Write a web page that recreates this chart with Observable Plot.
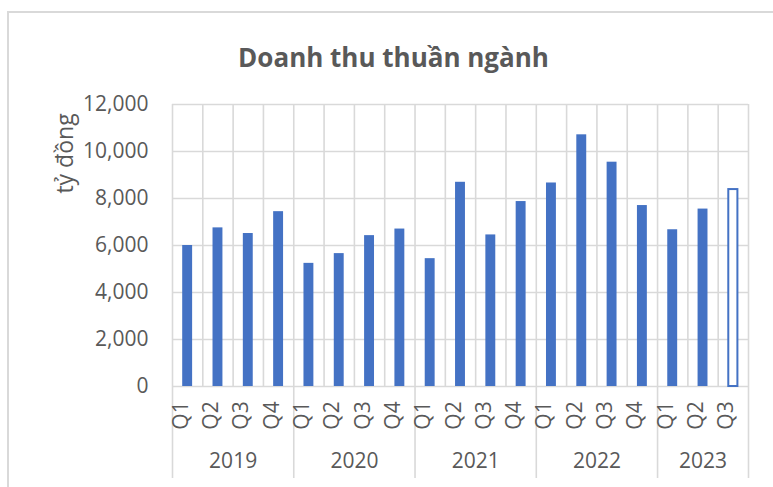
<!DOCTYPE html>
<html>
<head>
<meta charset="utf-8">
<script src="https://cdn.jsdelivr.net/npm/d3@7"></script>
<script src="https://cdn.jsdelivr.net/npm/@observablehq/plot@0.6"></script>
<style>
  html, body { margin: 0; padding: 0; background: #fff; overflow: hidden; }
  #wrap { position: relative; width: 773px; height: 487px; }
  #border { position: absolute; left: 7px; top: 11px; width: 900px; height: 600px;
            border: 2px solid #d9d9d9; pointer-events: none; }
  svg { position: absolute; left: 0; top: 0; }
</style>
</head>
<body>
<div id="wrap"><div id="border"></div></div>
<script>
const title = "Doanh thu thuần ngành";
const yLabel = "tỷ đồng";
const yearLabels = ["2019", "2020", "2021", "2022", "2023"];
const quartersPerYear = [4, 4, 4, 4, 3];
const quarterLabels = ["Q1","Q2","Q3","Q4","Q1","Q2","Q3","Q4","Q1","Q2","Q3","Q4","Q1","Q2","Q3","Q4","Q1","Q2","Q3"];
const revenue = [6000, 6750, 6510, 7440, 5240, 5655, 6420, 6700, 5440, 8690, 6450, 7870, 8660, 10710, 9545, 7700, 6670, 7550, 8380];
const isEstimate = [false,false,false,false,false,false,false,false,false,false,false,false,false,false,false,false,false,false,true];
const yTicks = [0, 2000, 4000, 6000, 8000, 10000, 12000];

const bars = revenue.map((v, i) => ({i, q: quarterLabels[i], value: v, est: isEstimate[i]}));
const boundaries = d3.range(0, bars.length + 1);
let acc = 0;
const years = yearLabels.map((y, k) => { const s = acc; acc += quartersPerYear[k]; return {year: y, start: s, end: acc, mid: (s + acc) / 2}; });
const yearEdges = [0, ...years.map(d => d.end)];

const W = 773, H = 487, mT = 104, mB = 101, mL = 172, mR = 25;
const grey = "#d9d9d9", txt = "#595959", blue = "#4472C4";
const font = "'Open Sans', 'Noto Sans', sans-serif";

const chart = Plot.plot({
  width: W, height: H,
  marginTop: mT, marginBottom: mB, marginLeft: mL, marginRight: mR,
  style: {fontFamily: font, color: txt, background: "transparent", overflow: "visible"},
  x: {type: "linear", domain: [0, bars.length], axis: null},
  y: {domain: [0, 12000], axis: null},
  marks: [
    Plot.ruleY(yTicks, {stroke: grey, strokeWidth: 1.6}),
    Plot.ruleX(boundaries, {stroke: grey, strokeWidth: 1.6}),
    Plot.ruleX(yearEdges, {stroke: grey, strokeWidth: 1.6, insetTop: H - mT - mB, insetBottom: -92}),
    Plot.rectY(bars.filter(d => !d.est), {x1: d => d.i, x2: d => d.i + 1, y: "value", fill: blue, insetLeft: 10.2, insetRight: 10.2}),
    Plot.rectY(bars.filter(d => d.est), {x1: d => d.i, x2: d => d.i + 1, y: "value", fill: "white", stroke: blue, strokeWidth: 2, insetLeft: 10.6, insetRight: 10.6}),
    Plot.text(yTicks, {x: 0, y: d => d, text: d => d3.format(",")(d), textAnchor: "end", dx: -24, fontSize: 21, fill: txt}),
    Plot.text(bars, {x: d => d.i + 0.5, text: "q", frameAnchor: "bottom", dy: 29, rotate: -90, textAnchor: "middle", fontSize: 21, fill: txt}),
    Plot.text(years, {x: "mid", text: "year", frameAnchor: "bottom", dy: 81, textAnchor: "middle", fontSize: 21, fill: txt}),
    Plot.text([yLabel], {frameAnchor: "top-left", dx: 56 - mL, dy: 153 - mT, rotate: -90, textAnchor: "middle", fontSize: 23, fill: txt}),
    Plot.text([title], {frameAnchor: "top-left", dx: 393 - mL, dy: 48 - mT, textAnchor: "middle", fontSize: 26, fontWeight: "bold", fill: txt})
  ]
});
document.getElementById("wrap").appendChild(chart);
</script>
</body>
</html>
